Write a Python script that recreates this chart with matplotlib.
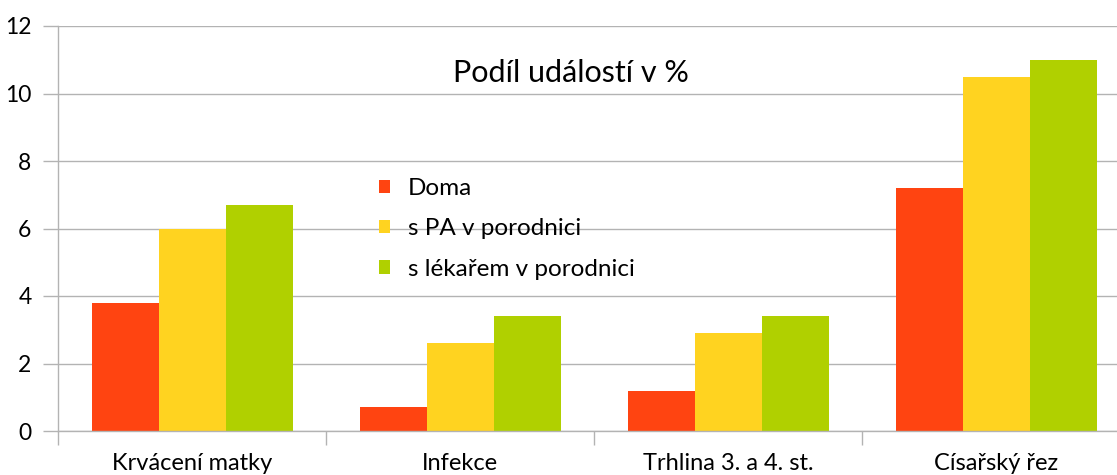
import numpy as np
import matplotlib
matplotlib.use("Agg")
import matplotlib.pyplot as plt

plt.rcParams['font.family'] = ['Lato', 'DejaVu Sans']

# Data
categories = ['Krvácení matky', 'Infekce', 'Trhlina 3. a 4. st.', 'Císařský řez']
series_names = ['Doma', 's PA v porodnici', 's lékařem v porodnici']
doma = [3.8, 0.7, 1.2, 7.2]
pa = [6.0, 2.6, 2.9, 10.5]
lekar = [6.7, 3.4, 3.4, 11.0]
colors = ['#ff4411', '#ffd320', '#b0d000']

fig = plt.figure(figsize=(11.17, 4.75), dpi=100)
ax = fig.add_axes([58 / 1117, 44 / 475, (1130 - 58) / 1117, (431 - 26) / 475])

x = np.arange(len(categories))
w = 0.25
for i, (vals, name) in enumerate(zip([doma, pa, lekar], series_names)):
    ax.bar(x + (i - 1) * w, vals, width=w, color=colors[i], label=name, zorder=2)

ax.set_xlim(-0.5, len(categories) - 0.5)
ax.set_ylim(0, 12)
ax.set_yticks(range(0, 13, 2))
ax.yaxis.grid(True, color='#b3b3b3', linewidth=1, zorder=0)

# category labels centered, ticks on boundaries
ax.set_xticks(x)
ax.set_xticklabels(categories, fontsize=17)
ax.tick_params(axis='x', length=0, pad=16)
ax.set_xticks(np.arange(-0.5, len(categories), 1), minor=True)
ax.tick_params(axis='x', which='minor', length=10, color='#b3b3b3', width=1)
ax.tick_params(axis='y', length=11, color='#b3b3b3', width=1, labelsize=16.5, pad=8)

for s in ['top', 'right']:
    ax.spines[s].set_visible(False)
for s in ['left', 'bottom']:
    ax.spines[s].set_color('#b3b3b3')
    ax.spines[s].set_linewidth(1)

ax.text(0.4785, 0.884, 'Podíl událostí v %', transform=ax.transAxes,
        ha='center', va='center', fontsize=22)

leg = ax.legend(loc='upper left', bbox_to_anchor=(0.2995, 0.625), frameon=False,
                fontsize=17.5, handlelength=0.47, handleheight=0.47, handletextpad=0.7,
                labelspacing=0.8, borderaxespad=0, borderpad=0)

fig.savefig('out.png', dpi=100)
